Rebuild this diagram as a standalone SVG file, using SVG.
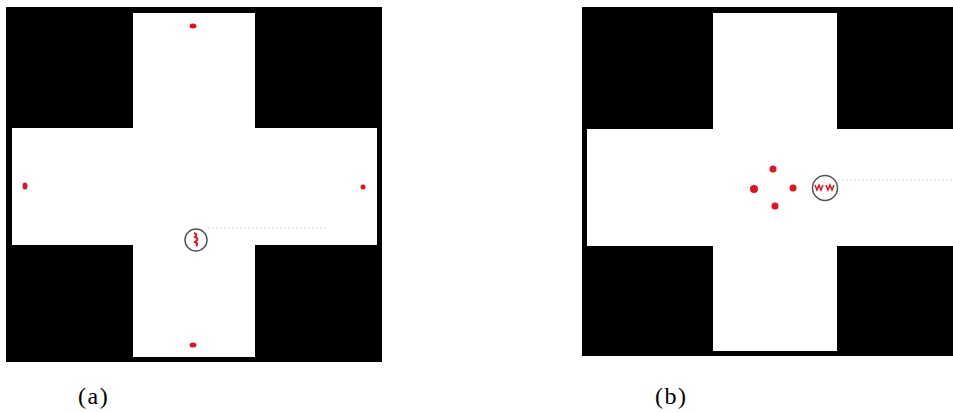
<svg xmlns="http://www.w3.org/2000/svg" width="953" height="413" viewBox="0 0 953 413">
<style>
.bg{fill:#000}
.arm{fill:#fff}
.dot{fill:#e8101c}
.ring{fill:none;stroke:#555;stroke-width:1.5}
.trail{stroke:#ddd;stroke-width:1;stroke-dasharray:2 2;fill:none}
.lbl{font-family:"Liberation Serif","Times New Roman",serif;font-size:24px;fill:#000;letter-spacing:1.5px}
</style>
<rect width="953" height="413" fill="#fff"/>
<g id="panel-a">
  <rect class="bg" x="6" y="7" width="376" height="355"/>
  <rect class="arm" x="133" y="13" width="122" height="344"/>
  <rect class="arm" x="12" y="128" width="365" height="117"/>
  <path class="trail" d="M208 228 H326"/>
  <ellipse class="dot" cx="193" cy="26" rx="3.5" ry="2.5"/>
  <ellipse class="dot" cx="25" cy="186" rx="2.5" ry="3.5"/>
  <circle class="dot" cx="363" cy="187" r="2.5"/>
  <ellipse class="dot" cx="193" cy="345" rx="3.5" ry="2.5"/>
  <circle class="ring" cx="196" cy="240" r="11"/>
  <path d="M194 233 q4 1 1 4 q5 2 0 5 q4 2 1 4" fill="none" stroke="#e8101c" stroke-width="2"/>
</g>
<g id="panel-b">
  <rect class="bg" x="582" y="7" width="371" height="349"/>
  <rect class="arm" x="713" y="13" width="124" height="338"/>
  <rect class="arm" x="587" y="129" width="366" height="117"/>
  <path class="trail" d="M838 180 H953"/>
  <circle class="dot" cx="773" cy="169" r="3.5"/>
  <circle class="dot" cx="754" cy="189" r="4"/>
  <circle class="dot" cx="793" cy="188" r="3.5"/>
  <circle class="dot" cx="775" cy="206" r="3.5"/>
  <circle class="ring" cx="825" cy="188" r="12.5"/>
  <path d="M815 185 l2 5 l2 -5 l2 5 l2 -5 M826 185 l2 5 l2 -5 l2 5 l2 -5" fill="none" stroke="#e8101c" stroke-width="1.5"/>
</g>
<g id="labels">
  <text class="lbl" x="78" y="404">(a)</text>
  <text class="lbl" x="655" y="404">(b)</text>
</g>
</svg>
